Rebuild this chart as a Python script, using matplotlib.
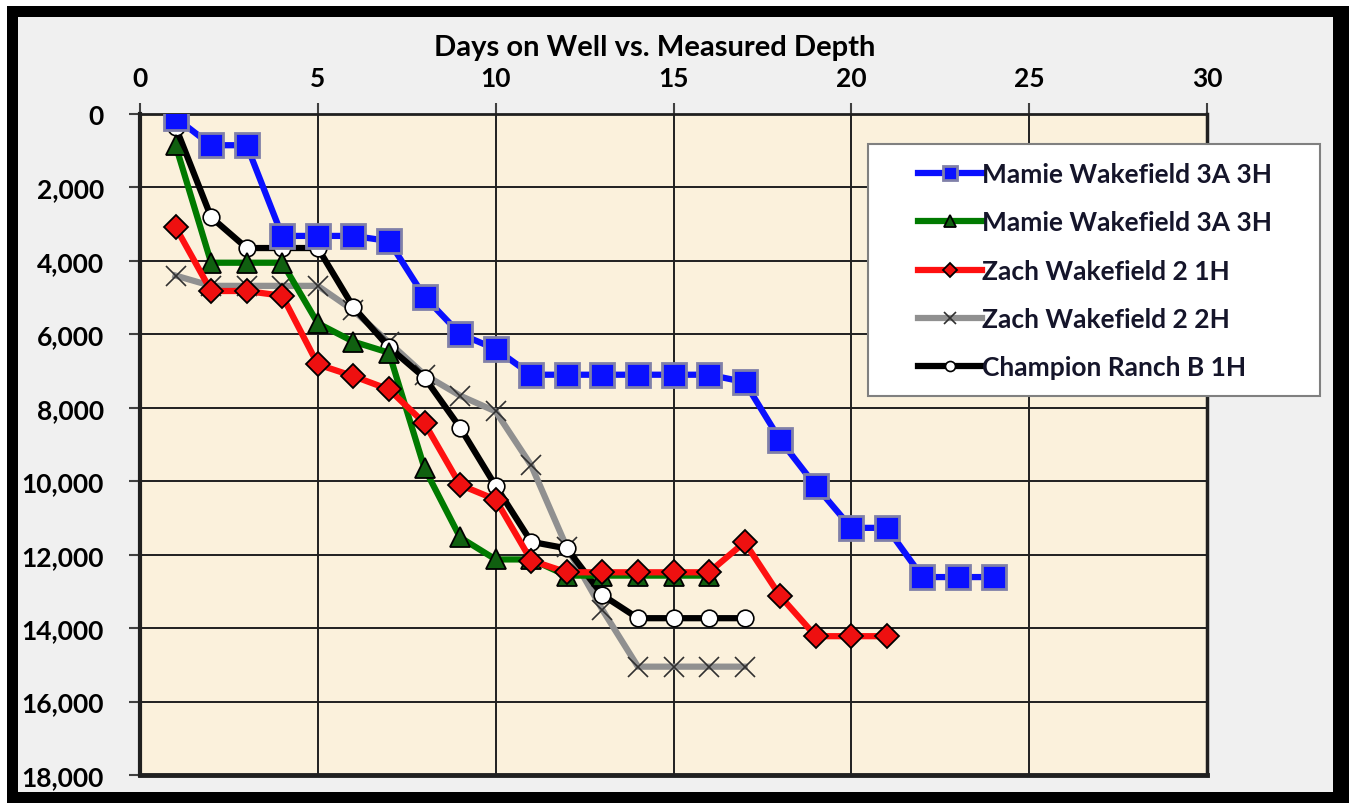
import matplotlib
matplotlib.use("Agg")
import matplotlib.pyplot as plt
from matplotlib.patches import Rectangle
from matplotlib.ticker import FuncFormatter

plt.rcParams['font.family'] = ['Lato', 'DejaVu Sans']

# ---- data ----
title = "Days on Well vs. Measured Depth"
labels = ["Mamie Wakefield 3A 3H", "Mamie Wakefield 3A 3H", "Zach Wakefield 2 1H",
          "Zach Wakefield 2 2H", "Champion Ranch B 1H"]

days_blue = list(range(1, 25))
depth_blue = [100, 850, 850, 3320, 3320, 3320, 3460, 4980, 5990, 6400, 7100, 7100,
              7100, 7100, 7100, 7100, 7300, 8880, 10130, 11270, 11270, 12610, 12610, 12610]

days_green = list(range(1, 17))
depth_green = [850, 4050, 4050, 4050, 5700, 6200, 6500, 9650, 11530, 12130, 12130,
               12570, 12570, 12570, 12570, 12570]

days_red = list(range(1, 22))
depth_red = [3080, 4820, 4820, 4950, 6820, 7140, 7500, 8420, 10100, 10500, 12160,
             12480, 12480, 12480, 12480, 12480, 11660, 13130, 14220, 14220, 14220]

days_gray = list(range(1, 18))
depth_gray = [4400, 4680, 4680, 4680, 4680, 5350, 6220, 7100, 7670, 8100, 9570,
              11800, 13500, 15050, 15050, 15050, 15050]

days_black = list(range(1, 18))
depth_black = [350, 2810, 3650, 3650, 3650, 5260, 6350, 7180, 8540, 10130, 11650,
               11830, 13100, 13730, 13730, 13730, 13730]

x_ticks = [0, 5, 10, 15, 20, 25, 30]
y_ticks = [0, 2000, 4000, 6000, 8000, 10000, 12000, 14000, 16000, 18000]

W, H = 1349, 804
fig = plt.figure(figsize=(W / 100, H / 100), dpi=100)
fig.patch.set_facecolor('white')

def fx(px):
    return px / W

def fy(py):
    return 1 - py / H

# outer frame
fig.patches.append(Rectangle((fx(7), fy(804)), fx(1349) - fx(7), fy(7) - fy(804),
                             transform=fig.transFigure, facecolor='black', edgecolor='none', zorder=-10))
fig.patches.append(Rectangle((fx(18), fy(793)), fx(1333) - fx(18), fy(18) - fy(793),
                             transform=fig.transFigure, facecolor='#f0f0f0', edgecolor='none', zorder=-9))

ax = fig.add_axes([fx(140), fy(776), fx(1207) - fx(140), fy(115) - fy(776)])
ax.set_facecolor('#fbf1dc')
ax.set_xlim(0, 30)
ax.set_ylim(18000, 0)
ax.xaxis.tick_top()
ax.set_xticks(x_ticks)
ax.set_yticks(y_ticks)
ax.yaxis.set_major_formatter(FuncFormatter(lambda v, p: f"{int(v):,}"))
ax.tick_params(axis='both', labelsize=19, width=1.5, length=8, color='#404040')
ax.tick_params(axis='y', pad=18)
ax.tick_params(axis='x', pad=9)
for lab in ax.get_xticklabels() + ax.get_yticklabels():
    lab.set_fontweight('bold')
ax.grid(True, color='#202020', linewidth=1.4)
ax.set_axisbelow(True)
for side in ['left', 'bottom', 'right', 'top']:
    ax.spines[side].set_color('#202020')
ax.spines['left'].set_linewidth(3)
ax.spines['bottom'].set_linewidth(3.5)
ax.spines['right'].set_linewidth(2.5)
ax.spines['top'].set_linewidth(2)

fig.text(fx(655), fy(48), title, ha='center', va='center', fontsize=21, fontweight='bold')

lw = 4.5
ax.plot(days_gray, depth_gray, color='#909090', lw=lw, marker='x', ms=15, mew=1.2,
        mec='#303030', label=labels[3], zorder=3)
ax.plot(days_black, depth_black, color='black', lw=lw, marker='o', ms=12, mfc='white',
        mec='black', mew=1.2, label=labels[4], zorder=4)
ax.plot(days_green, depth_green, color='#007a00', lw=lw, marker='^', ms=15, mfc='#106010',
        mec='black', mew=1.3, label=labels[1], zorder=5)
ax.plot(days_red, depth_red, color='#ff1010', lw=lw, marker='D', ms=12, mfc='#ee1010',
        mec='black', mew=1.3, label=labels[2], zorder=6)
ax.plot(days_blue, depth_blue, color='#0a10ff', lw=lw, marker='s', ms=17, mfc='#0a10ff',
        mec='#8080a8', mew=2, label=labels[0], zorder=7)

# legend box
ax.add_patch(Rectangle((fx(868), fy(397)), fx(1320) - fx(868), fy(145) - fy(397),
                       transform=fig.transFigure, facecolor='white', edgecolor='#808080',
                       lw=1.5, clip_on=False, zorder=10))
handles, labs = ax.get_legend_handles_labels()
order = [4, 2, 3, 0, 1]
handles = [handles[i] for i in order]
labs = [labs[i] for i in order]
leg = ax.legend(handles, labs, loc='upper left', bbox_to_anchor=(fx(905), fy(150)),
                bbox_transform=fig.transFigure, frameon=False,
                handlelength=2.4, handletextpad=0.0, labelspacing=0.92, borderpad=0,
                markerscale=0.6, prop={'weight': 'bold', 'size': 19})
leg.set_zorder(11)
for t in leg.get_texts():
    t.set_color('#15152a')

fig.savefig('out.png', dpi=100)
